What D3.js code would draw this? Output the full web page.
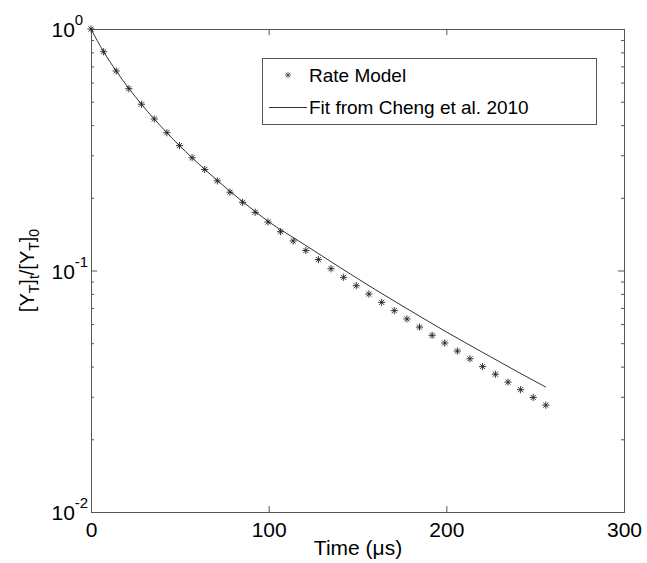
<!DOCTYPE html>
<html>
<head>
<meta charset="utf-8">
<script src="https://cdn.jsdelivr.net/npm/d3@7"></script>
<style>
  body { margin: 0; background: #fff; }
  text { font-family: "Liberation Sans", Arial, sans-serif; fill: #000; }
</style>
</head>
<body>
<div id="chart"></div>
<script>
// Data
const times = [0, 7.1, 14.2, 21.3, 28.4, 35.6, 42.7, 49.8, 56.9, 64.0, 71.1, 78.2,
  85.3, 92.4, 99.6, 106.7, 113.8, 120.9, 128.0, 135.1, 142.2, 149.3, 156.4, 163.6,
  170.7, 177.8, 184.9, 192.0, 199.1, 206.2, 213.3, 220.4, 227.6, 234.7, 241.8, 248.9, 256.0];
const rateModel = [1.000, 0.805, 0.670, 0.566, 0.488, 0.424, 0.372, 0.329, 0.293, 0.262,
  0.235, 0.211, 0.1916, 0.1742, 0.1588, 0.1448, 0.1325, 0.1210, 0.1110, 0.1017, 0.0937,
  0.0865, 0.0799, 0.0738, 0.0682, 0.0630, 0.0583, 0.0539, 0.0501, 0.0464, 0.0431, 0.0400,
  0.0372, 0.0345, 0.0321, 0.0298, 0.0277];

const fitTimes = [0, 7.1, 14.2, 28.4, 42.7, 56.9, 71.1, 85.3, 99.6, 118, 140, 160, 180, 200, 220, 240, 256];
const fitValues = [1.000, 0.805, 0.670, 0.488, 0.372, 0.293, 0.236, 0.193, 0.160, 0.131,
  0.1031, 0.0834, 0.0680, 0.0557, 0.0460, 0.0381, 0.0329];

const xTicks = [0, 100, 200, 300];
const yMajor = [1, 0.1, 0.01];
const yLabels = ["0", "-1", "-2"];
const legendLabels = ["Rate Model", "Fit from Cheng et al. 2010"];

// Layout
const width = 647, height = 563;
const plot = {left: 91, right: 624, top: 29, bottom: 512};

const svg = d3.select("#chart").append("svg")
  .attr("width", width)
  .attr("height", height);

svg.append("rect").attr("width", width).attr("height", height).attr("fill", "#fff");

const x = d3.scaleLinear().domain([0, 300]).range([plot.left, plot.right]);
const y = d3.scaleLog().domain([0.01, 1]).range([plot.bottom, plot.top]);

// minor log ticks
const yMinor = [];
[0.01, 0.1].forEach(d => { for (let k = 2; k <= 9; k++) yMinor.push(d * k); });

const axisColor = "#555";

function styleAxis(g) {
  g.select(".domain").remove();
  g.selectAll(".tick line").attr("stroke", axisColor);
}

// x axes (ticks inward)
svg.append("g")
  .attr("transform", `translate(0,${plot.bottom})`)
  .call(d3.axisBottom(x).tickValues(xTicks).tickSizeInner(-6).tickSizeOuter(0).tickPadding(10))
  .call(styleAxis)
  .call(g => g.selectAll(".tick text")
    .attr("font-size", 21)
    .attr("font-family", "Liberation Sans, Arial, sans-serif")
    .attr("fill", "#000"));

svg.append("g")
  .attr("transform", `translate(0,${plot.top})`)
  .call(d3.axisTop(x).tickValues(xTicks).tickSizeInner(-6).tickSizeOuter(0).tickFormat(""))
  .call(styleAxis);

// y axes: major and minor, both sides
svg.append("g")
  .attr("transform", `translate(${plot.left},0)`)
  .call(d3.axisLeft(y).tickValues(yMajor).tickSizeInner(-6).tickSizeOuter(0).tickFormat(""))
  .call(styleAxis);
svg.append("g")
  .attr("transform", `translate(${plot.left},0)`)
  .call(d3.axisLeft(y).tickValues(yMinor).tickSizeInner(-3).tickSizeOuter(0).tickFormat(""))
  .call(styleAxis);
svg.append("g")
  .attr("transform", `translate(${plot.right},0)`)
  .call(d3.axisRight(y).tickValues(yMajor).tickSizeInner(-6).tickSizeOuter(0).tickFormat(""))
  .call(styleAxis);
svg.append("g")
  .attr("transform", `translate(${plot.right},0)`)
  .call(d3.axisRight(y).tickValues(yMinor).tickSizeInner(-3).tickSizeOuter(0).tickFormat(""))
  .call(styleAxis);

// y tick labels as 10^n
const yl = svg.append("g").selectAll("text")
  .data(yMajor)
  .join("text")
  .attr("x", 51.5)
  .attr("y", d => y(d) + 8)
  .attr("font-size", 21);
yl.append("tspan").text("10");
yl.append("tspan").attr("font-size", 15).attr("dy", -12).text((d, i) => yLabels[i]);

// plot box
svg.append("rect")
  .attr("x", plot.left + 0.5).attr("y", plot.top + 0.5)
  .attr("width", plot.right - plot.left).attr("height", plot.bottom - plot.top)
  .attr("fill", "none").attr("stroke", axisColor).attr("stroke-width", 1);

// fit line
const line = d3.line()
  .x((d, i) => x(fitTimes[i]))
  .y(d => y(d))
  .curve(d3.curveMonotoneX);

svg.append("path")
  .datum(fitValues)
  .attr("d", line)
  .attr("fill", "none")
  .attr("stroke", "#333")
  .attr("stroke-width", 1);

// asterisk marker
function asterisk(r) {
  const a = r * Math.SQRT1_2;
  return `M${-r},0L${r},0M0,${-r}L0,${r}M${-a},${-a}L${a},${a}M${-a},${a}L${a},${-a}`;
}

svg.append("g").selectAll("path")
  .data(rateModel)
  .join("path")
  .attr("transform", (d, i) => `translate(${x(times[i])},${y(d)})`)
  .attr("d", asterisk(3.6))
  .attr("stroke", "#222")
  .attr("stroke-width", 0.9)
  .attr("fill", "none");

// legend
const leg = svg.append("g");
leg.append("rect")
  .attr("x", 262.5).attr("y", 58.5).attr("width", 334).attr("height", 66)
  .attr("fill", "#fff").attr("stroke", axisColor);
leg.append("path")
  .attr("transform", "translate(288,75)")
  .attr("d", asterisk(3))
  .attr("stroke", "#444").attr("stroke-width", 0.8).attr("fill", "none");
leg.append("line")
  .attr("x1", 269).attr("x2", 307).attr("y1", 107.5).attr("y2", 107.5)
  .attr("stroke", "#333");
leg.selectAll("text.lab")
  .data(legendLabels)
  .join("text")
  .attr("class", "lab")
  .attr("x", 309)
  .attr("y", (d, i) => 82 + i * 32)
  .attr("font-size", 19)
  .text(d => d);

// axis labels
svg.append("text")
  .attr("x", 358).attr("y", 555)
  .attr("text-anchor", "middle")
  .attr("font-size", 21)
  .text("Time (\u03bcs)");

const ylab = svg.append("text")
  .attr("transform", `translate(34,${(plot.top + plot.bottom) / 2}) rotate(-90)`)
  .attr("text-anchor", "middle")
  .attr("font-size", 20);
ylab.append("tspan").text("[Y");
ylab.append("tspan").attr("font-size", 14).attr("dy", 5).text("T");
ylab.append("tspan").attr("dy", -5).text("]");
ylab.append("tspan").attr("font-size", 14).attr("dy", 5).text("t");
ylab.append("tspan").attr("dy", -5).text("/[Y");
ylab.append("tspan").attr("font-size", 14).attr("dy", 5).text("T");
ylab.append("tspan").attr("dy", -5).text("]");
ylab.append("tspan").attr("font-size", 14).attr("dy", 5).text("0");
</script>
</body>
</html>
